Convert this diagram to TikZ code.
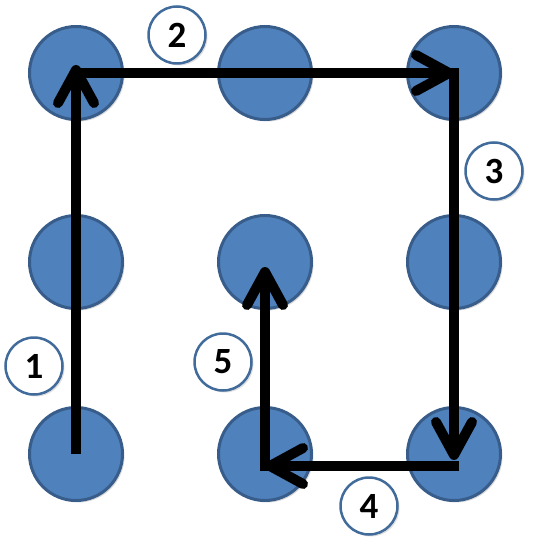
\documentclass[tikz,border=0pt]{standalone}
\usepackage{fontspec}
\setmainfont{Carlito}
\usetikzlibrary{arrows.meta,shadows}

\begin{document}
\begin{tikzpicture}[x=1pt,y=-1pt,
			dot/.style={
				circle,
				minimum size = 93pt,
				line width = 3pt,
				draw = {rgb,255:red,56;green,93;blue,138},
				fill = {rgb,255:red,79;green,129;blue,189},
				drop shadow={shadow xshift=2pt,shadow yshift=-2pt,opacity=.3}},
			num/.style={
				circle,
				minimum size = 57pt,
				inner sep = 0pt,
				line width = 2.5pt,
				draw = {rgb,255:red,65;green,107;blue,155},
				fill = white,
				font = \fontsize{37}{37}\selectfont\bfseries,
				drop shadow={shadow xshift=2pt,shadow yshift=-2pt,opacity=.25}},
			hop/.style={
				line width = 10pt,
				-{Straight Barb[round,length=33pt,width=36pt]}}]
			\useasboundingbox (0, 0) rectangle (536, 548);
			% grid of dots
			\foreach \r/\y in {1/73, 2/262, 3/454}
			\foreach \c/\x in {1/76, 2/265, 3/454}
			\node[dot] (c\r\c) at (\x, \y) {};
			\coordinate (t4) at (454, 466);
			\coordinate (t5) at (265, 466);
			% path
			\draw[hop] (c31.center) -- ([yshift=8pt]c11.center);
			\draw[hop] ([xshift=-5pt]c11.center) -- (c13.center);
			\draw[hop] ([yshift=5pt]c13.center) -- ([yshift=-6pt]c33.center);
			\draw[hop] ([xshift=5pt]t4) -- (t5);
			\draw[hop] ([yshift=-5pt]t5) -- ([yshift=-5pt]c22.center);
			% step numbers
			\node[num] (n1) at (34, 366) {1};
			\node[num] (n2) at (177, 35) {2};
			\node[num] (n3) at (494, 171) {3};
			\node[num] (n4) at (369, 506) {4};
			\node[num] (n5) at (223, 362) {5};
			\end{tikzpicture}
\end{document}
